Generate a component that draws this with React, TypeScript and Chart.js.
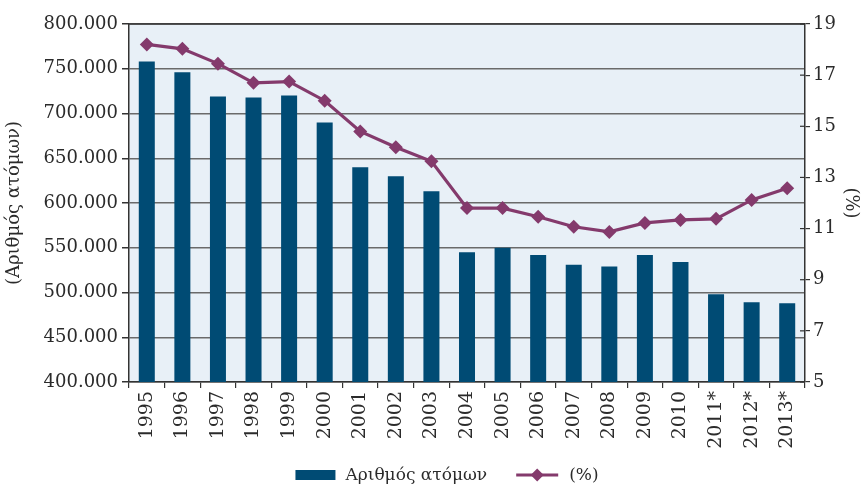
import React, { useEffect, useRef } from 'react';
import { Chart, registerables } from 'chart.js';

Chart.register(...registerables);

const years = ['1995', '1996', '1997', '1998', '1999', '2000', '2001', '2002', '2003', '2004', '2005', '2006', '2007', '2008', '2009', '2010', '2011*', '2012*', '2013*'];
const persons = [758000, 746000, 719000, 718000, 720000, 690000, 640000, 630000, 613000, 545000, 550000, 542000, 531000, 529000, 542000, 534000, 498000, 489000, 488000];
const percent = [18.2, 18.03, 17.45, 16.7, 16.75, 16.0, 14.8, 14.18, 13.63, 11.8, 11.8, 11.46, 11.07, 10.87, 11.22, 11.34, 11.38, 12.12, 12.58];
const leftAxis = [400000, 800000, 50000];
const rightAxis = [5, 19, 2];
const barLabel = 'Αριθμός ατόμων';
const lineLabel = '(%)';
const leftTitle = '(Αριθμός ατόμων)';
const rightTitle = '(%)';

const FONT = '"DejaVu Serif", serif';
const BAR_COLOR = '#004b74';
const LINE_COLOR = '#843a6c';
const TEXT_COLOR = '#2b2b2b';
const GRID_COLOR = '#6a6a6a';
const AXIS_COLOR = '#333333';

const fmt = (v: number) => String(Math.round(v)).replace(/\B(?=(\d{3})+(?!\d))/g, '.');

const decorPlugin = {
  id: 'decor',
  beforeDraw(chart: any) {
    const { ctx, chartArea: a } = chart;
    ctx.save();
    ctx.fillStyle = '#e8f0f7';
    ctx.fillRect(a.left, a.top, a.right - a.left, a.bottom - a.top);
    ctx.restore();
  },
  afterDraw(chart: any) {
    const { ctx, chartArea: a } = chart;
    ctx.save();
    ctx.strokeStyle = AXIS_COLOR;
    ctx.lineWidth = 1.5;
    ctx.beginPath();
    ctx.moveTo(a.left, a.top);
    ctx.lineTo(a.right, a.top);
    ctx.stroke();
    const y1 = chart.scales.y1;
    ctx.lineWidth = 1.2;
    y1.ticks.forEach((t: any) => {
      const y = y1.getPixelForValue(t.value);
      ctx.beginPath();
      ctx.moveTo(a.right - 5, y);
      ctx.lineTo(a.right, y);
      ctx.stroke();
    });
    ctx.font = '17px ' + FONT;
    ctx.textBaseline = 'middle';
    ctx.fillStyle = TEXT_COLOR;
    const w1 = ctx.measureText(barLabel).width;
    const w2 = ctx.measureText(lineLabel).width;
    const total = 40 + 10 + w1 + 29 + 42 + 11 + w2;
    const cy = 475;
    let x = chart.width * 0.518 - total / 2;
    ctx.fillStyle = BAR_COLOR;
    ctx.fillRect(x, cy - 5, 40, 10);
    x += 50;
    ctx.fillStyle = TEXT_COLOR;
    ctx.fillText(barLabel, x, cy + 1);
    x += w1 + 29;
    ctx.strokeStyle = LINE_COLOR;
    ctx.lineWidth = 3;
    ctx.beginPath();
    ctx.moveTo(x, cy);
    ctx.lineTo(x + 42, cy);
    ctx.stroke();
    ctx.fillStyle = LINE_COLOR;
    const r = 6.5;
    const mx = x + 21;
    ctx.beginPath();
    ctx.moveTo(mx, cy - r);
    ctx.lineTo(mx + r, cy);
    ctx.lineTo(mx, cy + r);
    ctx.lineTo(mx - r, cy);
    ctx.closePath();
    ctx.fill();
    x += 42 + 11;
    ctx.fillStyle = TEXT_COLOR;
    ctx.fillText(lineLabel, x, cy + 1);
    ctx.restore();
  },
};

export default function App() {
  const ref = useRef<HTMLCanvasElement | null>(null);
  useEffect(() => {
    if (!ref.current) return;
    const chart = new Chart(ref.current, {
      type: 'bar',
      data: {
        labels: years,
        datasets: [
          {
            type: 'line',
            label: lineLabel,
            data: percent,
            yAxisID: 'y1',
            borderColor: LINE_COLOR,
            backgroundColor: LINE_COLOR,
            borderWidth: 3.2,
            pointStyle: 'rectRot',
            pointRadius: 7,
            pointBorderWidth: 0,
            tension: 0,
            order: 0,
          } as any,
          {
            type: 'bar',
            label: barLabel,
            data: persons,
            yAxisID: 'y',
            backgroundColor: BAR_COLOR,
            barPercentage: 0.45,
            categoryPercentage: 1,
            order: 1,
          },
        ],
      },
      options: {
        animation: false,
        responsive: false,
        maintainAspectRatio: false,
        layout: { padding: { top: 24, left: 0, right: 0, bottom: 34 } },
        plugins: { legend: { display: false }, tooltip: { enabled: false } },
        scales: {
          x: {
            offset: true,
            grid: { display: true, offset: true, drawOnChartArea: false, drawTicks: true, tickLength: 6, tickColor: AXIS_COLOR, lineWidth: 1.2 },
            border: { display: true, color: AXIS_COLOR, width: 1.5 },
            ticks: { minRotation: 90, maxRotation: 90, autoSkip: false, padding: 3, color: TEXT_COLOR, font: { family: FONT, size: 19 } },
            afterFit: (s: any) => { s.height = 70; },
          },
          y: {
            position: 'left',
            min: leftAxis[0],
            max: leftAxis[1],
            ticks: { stepSize: leftAxis[2], padding: 4, color: TEXT_COLOR, font: { family: FONT, size: 18 }, callback: (v: any) => fmt(Number(v)) },
            grid: { color: GRID_COLOR, lineWidth: 1.5, tickLength: 7, tickColor: AXIS_COLOR },
            border: { display: true, color: AXIS_COLOR, width: 1.5 },
            title: { display: true, text: leftTitle, color: TEXT_COLOR, font: { family: FONT, size: 18 }, padding: { top: 4, bottom: 0 } },
            afterFit: (s: any) => { s.width = 129; },
          },
          y1: {
            position: 'right',
            min: rightAxis[0],
            max: rightAxis[1],
            ticks: { stepSize: rightAxis[2], padding: 3, color: TEXT_COLOR, font: { family: FONT, size: 18 } },
            grid: { drawOnChartArea: false, tickLength: 5, tickColor: AXIS_COLOR, lineWidth: 1.2 },
            border: { display: true, color: AXIS_COLOR, width: 1.5 },
            title: { display: true, text: rightTitle, color: TEXT_COLOR, font: { family: FONT, size: 18 }, padding: { top: 2, bottom: 0 } },
            afterFit: (s: any) => { s.width = 58; },
          },
        },
      },
      plugins: [decorPlugin],
    });
    return () => chart.destroy();
  }, []);
  return (
    <div style={{ position: 'fixed', left: 0, top: 0, width: 863, height: 486, background: '#fff' }}>
      <canvas ref={ref} width={863} height={486} style={{ width: 863, height: 486 }} />
    </div>
  );
}
